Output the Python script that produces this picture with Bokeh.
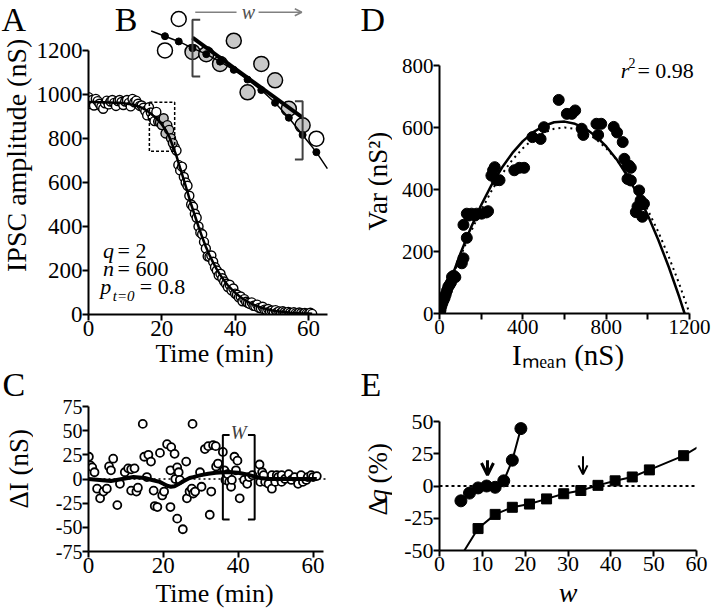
import math
from bokeh.plotting import figure
from bokeh.models import Range1d, FixedTicker, PrintfTickFormatter, Label, Arrow, OpenHead
from bokeh.layouts import row, column
from bokeh.embed import file_html
from bokeh.resources import INLINE

FONT = "Liberation Serif"

# ---------------- Panel A: IPSC amplitude (nS) vs time (min) ----------------
a_time = [0.0, 0.5, 1.0, 1.5, 2.0, 2.5, 3.0, 3.5, 4.0, 4.5,
          5.0, 5.5, 6.0, 6.5, 7.0, 7.5, 8.0, 8.5, 9.0, 9.5,
          10.0, 10.5, 11.0, 11.5, 12.0, 12.5, 13.0, 13.5, 14.0, 14.5,
          15.0, 15.5, 16.0, 16.5, 17.0, 17.5, 18.0, 18.5, 19.0, 19.5,
          20.0, 20.5, 21.0, 21.5, 22.0, 22.5, 23.0, 23.5, 24.0, 24.5,
          25.0, 25.5, 26.0, 26.5, 27.0, 27.5, 28.0, 28.5, 29.0, 29.5,
          30.0, 30.5, 31.0, 31.5, 32.0, 32.5, 33.0, 33.5, 34.0, 34.5,
          35.0, 35.5, 36.0, 36.5, 37.0, 37.5, 38.0, 38.5, 39.0, 39.5,
          40.0, 40.5, 41.0, 41.5, 42.0, 42.5, 43.0, 43.5, 44.0, 44.5,
          45.0, 45.5, 46.0, 46.5, 47.0, 47.5, 48.0, 48.5, 49.0, 49.5,
          50.0, 50.5, 51.0, 51.5, 52.0, 52.5, 53.0, 53.5, 54.0, 54.5,
          55.0, 55.5, 56.0, 56.5, 57.0, 57.5, 58.0, 58.5, 59.0, 59.5,
          60.0, 60.5, 61.0]
a_amp = [988, 957, 975, 950, 980, 970, 958, 945, 935, 960,
         972, 955, 968, 975, 962, 948, 970, 975, 966, 952,
         968, 975, 962, 946, 980, 965, 972, 958, 948, 950,
         940, 925, 905, 942, 918, 895, 879, 921, 877, 874,
         861, 892, 823, 861, 839, 801, 779, 761, 745, 680,
         655, 672, 625, 600, 585, 540, 500, 490, 458, 440,
         400, 372, 365, 330, 300, 265, 262, 268, 240, 215,
         200, 178, 185, 165, 150, 140, 125, 135, 110, 118,
         95, 90, 78, 82, 60, 70, 58, 52, 48, 55,
         40, 38, 45, 30, 28, 35, 22, 20, 25, 15,
         18, 12, 20, 10, 14, 8, 15, 10, 6, 12,
         8, 4, 10, 5, 3, 9, 6, 2, 7, 4,
         1, 8, 3]
a_fit_time = [0, 1, 2, 3, 4, 5, 6, 7, 8, 9,
              10, 11, 12, 13, 14, 15, 16, 17, 18, 19,
              20, 21, 22, 23, 24, 25, 26, 27, 28, 29,
              30, 31, 32, 33, 34, 35, 36, 37, 38, 39,
              40, 41, 42, 43, 44, 45, 46, 47, 48, 49,
              50, 51, 52, 53, 54, 55, 56, 57, 58, 59,
              60, 61]
a_fit_amp = [966, 966, 966, 965, 965, 964, 964, 963, 962, 961,
             959, 957, 954, 950, 944, 936, 926, 913, 898, 882,
             864, 840, 809, 766, 720, 665, 612, 556, 500, 450,
             400, 352, 308, 270, 236, 205, 178, 154, 133, 115,
             99, 85, 73, 62, 53, 45, 38, 32, 27, 23,
             19, 16, 14, 12, 10, 8, 7, 6, 5, 4,
             4, 3]
window_time = [19.0, 23.0]     # the w points of the window (grey)
inset_time = [18.0, 23.5]      # points shown magnified in inset B
box_time = [16.6, 23.5]
box_amp = [742, 965]

# ---------------- Panel B (inset, magnified window) ----------------
b_fit_time = [18.0, 18.5, 19.0, 19.5, 20.0, 20.5, 21.0, 21.5, 22.0, 22.5, 23.0, 23.5]
b_fit_amp = [898, 891, 882, 874, 864, 853, 840, 826, 809, 789, 766, 743]
b_line_time = [17.5, 18.0, 18.5, 19.0, 19.5, 20.0, 20.5, 21.0, 21.5, 22.0, 22.5, 23.0, 23.5, 23.9]
b_line_amp = [905, 898, 891, 882, 874, 864, 853, 840, 826, 809, 789, 766, 743, 721]
b_reg_time = [19.0, 23.0]
b_reg_amp = [896, 789]
b_brk_l_time = [19.28, 19.0, 19.0, 19.28]
b_brk_l_amp = [920, 920, 844, 844]
b_brk_r_time = [22.72, 23.0, 23.0, 22.72]
b_brk_r_amp = [811, 811, 733, 733]
b_warrow_time = [19.1, 20.6, 21.4, 22.97]
b_warrow_amp = [930, 930, 930, 930]

# ---------------- Panel C: residuals ----------------
c_time = [0.1, 0.5, 1.0, 1.6, 2.3, 3.1, 4.0, 4.9, 5.5, 6.0,
          6.6, 7.7, 8.4, 9.7, 10.6, 11.4, 11.4, 12.3, 12.8, 13.2,
          14.5, 14.9, 15.6, 16.0, 16.7, 17.4, 17.7, 18.4, 19.1, 19.7,
          20.2, 21.0, 21.9, 21.9, 22.1, 23.0, 23.2, 23.7, 23.7, 24.1,
          24.4, 25.2, 26.1, 26.3, 27.0, 27.6, 27.8, 28.0, 28.5, 29.8,
          30.2, 31.1, 32.0, 32.4, 32.8, 33.3, 34.0, 34.1, 34.6, 35.9,
          36.3, 36.6, 37.2, 37.6, 38.1, 38.3, 39.0, 39.4, 39.8, 40.4,
          41.6, 42.4, 42.9, 43.8, 45.7, 45.9, 46.4, 46.8, 47.2, 48.1,
          49.0, 49.0, 49.9, 50.3, 50.7, 51.6, 51.6, 52.5, 53.5, 54.2,
          55.1, 56.0, 56.8, 57.3, 58.2, 58.6, 59.5, 60.0, 61.0]
c_dI = [23, 14, 12, 7, -10, -20, -13, -10, 13, 9,
        21, -27, -5, 7, 11, 10, -12, 11, -13, -9,
        57, 23, 2, 25, 18, -12, -28, -29, 27, -17,
        -13, 36, -29, 9, 33, 26, 0, -41, 12, 7,
        -1, -52, 18, -20, -13, -10, 57, -15, -13, 7,
        -8, 31, 34, -37, -13, 35, 34, 13, 16, 28,
        9, -1, 5, -3, -8, -1, 23, 9, 19, -20,
        -1, -5, 2, 4, 15, -3, 7, 4, -3, -5,
        -10, 4, -3, 4, 2, 4, -3, 0, 5, -1,
        2, -5, 4, -3, -1, 2, 4, 2, 3]
c_fit_time = [0, 3, 6, 9, 12, 15, 17, 19, 20, 21, 22, 23, 24, 25, 26, 27, 28,
              30, 32, 34, 36, 38, 40, 42, 44, 46, 48, 50, 55, 61]
c_fit_dI = [0, -1, -2, 0, 2, 1, -1, -3, -5, -7, -8, -7.5, -5.5, -3, -1, 1, 2,
            4, 5.5, 6.5, 7, 7, 6.5, 5, 3, 1, 0, 0, 0, 0]
c_zero_time = [0, 63.4]
c_zero_dI = [0, 0]
c_brk_l_time = [37.7, 35.9, 35.9, 37.7]
c_brk_r_time = [42.6, 44.4, 44.4, 42.6]
c_brk_dI = [45.5, 45.5, -42, -42]

# ---------------- Panel D: variance vs mean ----------------
d_imean = [2, 5, 9, 14, 20, 25, 30, 36, 42, 48,
           55, 60, 68, 76, 107, 115, 115, 131, 131, 140,
           154, 170, 178, 202, 225, 233, 249, 257, 265, 273,
           288, 359, 383, 406, 446, 485, 501, 572, 611, 635,
           651, 682, 690, 753, 776, 761, 836, 852, 879, 887,
           902, 910, 918, 902, 918, 958, 965, 973, 981, 950,
           942, 973]
d_var = [4, 12, 24, 34, 44, 52, 62, 74, 86, 92,
         100, 118, 122, 117, 162, 178, 286, 244, 322, 316,
         322, 316, 322, 322, 326, 330, 445, 462, 472, 430,
         430, 462, 470, 470, 569, 563, 601, 689, 644, 644,
         655, 596, 576, 612, 612, 576, 602, 584, 553, 499,
         477, 477, 470, 434, 429, 397, 365, 352, 354, 345,
         327, 312]
d_fit_i = [0, 50, 100, 150, 200, 250, 300, 350, 400, 450, 500, 550, 600,
           650, 700, 750, 800, 850, 900, 950, 1000, 1050, 1100, 1150, 1176]
d_fit_var = [0, 101, 193, 276, 350, 415, 471, 518, 556, 585, 605, 617, 619,
             612, 597, 572, 539, 497, 445, 385, 316, 237, 150, 54, 0]
d_dot_i = [0, 50, 100, 150, 200, 250, 300, 350, 400, 450, 500, 550, 600,
           650, 700, 750, 800, 850, 900, 950, 1000, 1050, 1100, 1150, 1200]
d_dot_var = [0, 96, 183, 263, 333, 396, 450, 496, 533, 563, 583, 596, 600,
             596, 583, 563, 533, 496, 450, 396, 333, 263, 183, 96, 0]

# ---------------- Panel E: delta q vs window w ----------------
e_circ_w = [5, 7, 9, 11, 13, 15, 17, 19]
e_circ_dq = [-11.5, -5.5, -1.5, 0, -1, 4, 20, 44.5]
e_sq_w = [4.5, 9, 13, 17, 21, 25, 29, 33, 37, 41, 45, 49, 57, 62]
e_sq_dq = [-57, -33, -22, -16.5, -14, -10, -6, -3.5, 0.5, 4, 7, 12.5, 23.5, 33.5]
e_zero_w = [0, 60]
e_zero_dq = [0, 0]
e_arrow_w = [11.2, 33.5]
e_arrow_top = [20, 23]
e_arrow_tip = [8.5, 9]


# ---------------- helpers ----------------
def geom(ox, oy, W, H, L, R, T, B, xpx, xval, xs, ypx, yval, ys):
    return dict(ox=ox, oy=oy, W=W, H=H, L=L, R=R, T=T, B=B,
                x0=xval + (L - xpx) / xs, x1=xval + (R - xpx) / xs,
                y0=yval - (B - ypx) / ys, y1=yval + (ypx - T) / ys)


# figure boxes in page pixels
gA = geom(33, 0, 327, 375, 85, 345, 0, 314, 85, 0, 227 / 60, 314, 0, 0.22)
gB = geom(33, 0, 327, 375, 85, 345, 0, 314, 192.3, 19.0, 28.4, 35.7, 898, 0.748)
gC = geom(33, 375, 327, 240, 83, 340, 406, 551, 83, 0, 229 / 60, 551, -75, 145 / 150)
gD = geom(392, 0, 328, 377, 439, 700, 0, 313, 439, 0, 254 / 1200, 313, 0, 0.31)
gE = geom(392, 377, 328, 238, 439, 696, 411, 550, 439, 0, 257 / 60, 550, -50, 1.29)


def make_fig(g):
    p = figure(width=g["W"], height=g["H"],
               x_range=Range1d(g["x0"], g["x1"]), y_range=Range1d(g["y0"], g["y1"]),
               output_backend="svg", toolbar_location=None,
               min_border_left=int(g["L"] - g["ox"]),
               min_border_right=int(g["ox"] + g["W"] - g["R"]),
               min_border_top=int(g["T"] - g["oy"]),
               min_border_bottom=int(g["oy"] + g["H"] - g["B"]))
    p.xgrid.visible = False
    p.ygrid.visible = False
    p.outline_line_color = None
    p.background_fill_color = "white"
    p.border_fill_color = "white"
    return p


def strip(ox, oy, W, H):
    # text-only figure; its ranges are the page pixels themselves (y downwards)
    p = figure(width=W, height=H, x_range=Range1d(ox, ox + W), y_range=Range1d(oy + H, oy),
               x_axis_type=None, y_axis_type=None, output_backend="svg",
               toolbar_location=None, min_border_left=0, min_border_right=0,
               min_border_top=0, min_border_bottom=0)
    p.outline_line_color = None
    p.background_fill_color = "white"
    p.border_fill_color = "white"
    return p


def style_axis(ax, ticks, bounds, size, minor=None):
    ax.ticker = FixedTicker(ticks=ticks, minor_ticks=minor or [])
    ax.formatter = PrintfTickFormatter(format="%d")
    ax.bounds = bounds
    ax.axis_line_width = 2
    ax.axis_line_color = "black"
    ax.major_tick_line_width = 2
    ax.major_tick_line_color = "black"
    ax.major_tick_out = 6
    ax.major_tick_in = 0
    if minor:
        ax.minor_tick_line_width = 2
        ax.minor_tick_line_color = "black"
        ax.minor_tick_out = 6
        ax.minor_tick_in = 0
    else:
        ax.minor_tick_line_color = None
    ax.major_label_text_font = FONT
    ax.major_label_text_font_size = f"{size}px"
    ax.major_label_text_color = "black"
    ax.major_label_standoff = 0


def axis_title(ax, text, size, standoff, italic=False):
    ax.axis_label = text
    ax.axis_label_text_font = FONT
    ax.axis_label_text_font_size = f"{size}px"
    ax.axis_label_text_font_style = "italic" if italic else "normal"
    ax.axis_label_text_color = "black"
    ax.axis_label_standoff = standoff


UP = math.pi / 2


def lab(p, g, px, py, s, size, italic=False, angle=0.0, color="black", baseline=True):
    """Left-anchored text at page pixel (px, py).  For horizontal text py is the
    alphabetic baseline; it is converted to the middle of the em box."""
    if baseline:
        py = py - 0.34 * size
    if g is None:
        x, y = px, py
    else:
        x = g["x0"] + (px - g["L"]) * (g["x1"] - g["x0"]) / (g["R"] - g["L"])
        y = g["y0"] + (g["B"] - py) * (g["y1"] - g["y0"]) / (g["B"] - g["T"])
    p.add_layout(Label(x=x, y=y, text=s, text_font=FONT, text_font_size=f"{size}px",
                       text_font_style="italic" if italic else "normal",
                       text_align="left", text_baseline="middle", angle=angle,
                       text_color=color))


# ---------------- Panel A (+ inset B) ----------------
pA = make_fig(gA)
pA.extra_x_ranges = {"bx": Range1d(gB["x0"], gB["x1"])}
pA.extra_y_ranges = {"by": Range1d(gB["y0"], gB["y1"])}
style_axis(pA.xaxis[0], [0, 20, 40, 60], (0, 65.3), 23)
style_axis(pA.yaxis[0], [0, 200, 400, 600, 800, 1000, 1200], (0, 1200), 23)
axis_title(pA.xaxis[0], "Time (min)", 26, 0)

in_win = [window_time[0] <= t <= window_time[1] for t in a_time]
pA.scatter([t for t, w in zip(a_time, in_win) if not w],
           [v for v, w in zip(a_amp, in_win) if not w],
           marker="circle", size=9, fill_color="white", line_color="black", line_width=1.4)
pA.scatter([t for t, w in zip(a_time, in_win) if w],
           [v for v, w in zip(a_amp, in_win) if w],
           marker="circle", size=9, fill_color="#c0c0c0", line_color="black", line_width=1.4)
pA.line(a_fit_time, a_fit_amp, line_color="black", line_width=2.5)
pA.quad(left=[box_time[0]], right=[box_time[1]], bottom=[box_amp[0]], top=[box_amp[1]],
        fill_color=None, line_color="black", line_dash="3 2", line_width=1.5)

in_inset = [inset_time[0] <= t <= inset_time[1] for t in a_time]
b_open = [(t, v) for t, v, i, w in zip(a_time, a_amp, in_inset, in_win) if i and not w]
b_grey = [(t, v) for t, v, i, w in zip(a_time, a_amp, in_inset, in_win) if i and w]
BR = dict(x_range_name="bx", y_range_name="by")
pA.scatter([q[0] for q in b_open], [q[1] for q in b_open], marker="circle", size=15,
           fill_color="white", line_color="black", line_width=1.5, **BR)
pA.scatter([q[0] for q in b_grey], [q[1] for q in b_grey], marker="circle", size=15,
           fill_color="#c8c8c8", line_color="black", line_width=1.5, **BR)
pA.line(b_line_time, b_line_amp, line_color="black", line_width=1.5, **BR)
pA.line(b_reg_time, b_reg_amp, line_color="black", line_width=4, **BR)
pA.scatter(b_fit_time, b_fit_amp, marker="circle", size=7, fill_color="black",
           line_color="black", **BR)
pA.line(b_brk_l_time, b_brk_l_amp, line_color="#404040", line_width=2, **BR)
pA.line(b_brk_r_time, b_brk_r_amp, line_color="#404040", line_width=2, **BR)
pA.line(b_warrow_time[:2], b_warrow_amp[:2], line_color="#808080", line_width=1.5, **BR)
pA.add_layout(Arrow(x_start=b_warrow_time[2], y_start=b_warrow_amp[2],
                    x_end=b_warrow_time[3], y_end=b_warrow_amp[3],
                    line_color="#808080", line_width=1.5,
                    end=OpenHead(size=7, line_color="#808080", line_width=1.5), **BR))

lab(pA, gA, 112, 30.5, "B", 34)
lab(pA, gA, 243, 18, "w", 20, italic=True, color="#505050")
lab(pA, gA, 100, 257, "q", 22, italic=True)
lab(pA, gA, 115, 257, "= 2", 22)
lab(pA, gA, 100, 275, "n", 22, italic=True)
lab(pA, gA, 115, 275, "= 600", 22)
lab(pA, gA, 97, 293, "p", 22, italic=True)
lab(pA, gA, 110, 301, "t=0", 15, italic=True)
lab(pA, gA, 138, 293, "= 0.8", 22)

# ---------------- Panel C ----------------
pC = make_fig(gC)
style_axis(pC.xaxis[0], [0, 20, 40, 60], (0, 62.9), 23)
style_axis(pC.yaxis[0], [-75, -50, -25, 0, 25, 50, 75], (-75, 75), 20)
axis_title(pC.xaxis[0], "Time (min)", 26, 3)
pC.line(c_zero_time, c_zero_dI, line_color="black", line_width=1.5, line_dash="2 3")
pC.scatter(c_time, c_dI, marker="circle", size=8, fill_color="white",
           line_color="black", line_width=1.8)
pC.line(c_fit_time, c_fit_dI, line_color="black", line_width=4)
pC.line(c_brk_l_time, c_brk_dI, line_color="black", line_width=2)
pC.line(c_brk_r_time, c_brk_dI, line_color="black", line_width=2)
lab(pC, gC, 228, 438, "W", 19, italic=True, color="#404040")

# ---------------- Panel D ----------------
pD = make_fig(gD)
style_axis(pD.xaxis[0], [0, 400, 800, 1200], (0, 1200), 21, minor=[200, 600, 1000])
style_axis(pD.yaxis[0], [0, 200, 400, 600, 800], (0, 800), 21)
axis_title(pD.xaxis[0], "Iₘₑₐₙ (nS)", 29, 2)
pD.scatter(d_imean, d_var, marker="circle", size=11, fill_color="black", line_color="black")
pD.line(d_fit_i, d_fit_var, line_color="black", line_width=2.5)
pD.line(d_dot_i, d_dot_var, line_color="black", line_width=2, line_dash="2 4")
lab(pD, gD, 623, 77, "r", 22, italic=True)
lab(pD, gD, 631, 67, "2", 14)
lab(pD, gD, 640, 77, "= 0.98", 22)

# ---------------- Panel E ----------------
pE = make_fig(gE)
style_axis(pE.xaxis[0], [0, 10, 20, 30, 40, 50, 60], (0, 60), 22)
style_axis(pE.yaxis[0], [-50, -25, 0, 25, 50], (-50, 50), 22)
axis_title(pE.xaxis[0], "w", 28, 3, italic=True)
pE.line(e_zero_w, e_zero_dq, line_color="black", line_width=2, line_dash="3 3")
pE.line(e_circ_w, e_circ_dq, line_color="black", line_width=2)
pE.scatter(e_circ_w, e_circ_dq, marker="circle", size=12, fill_color="black", line_color="black")
pE.line(e_sq_w, e_sq_dq, line_color="black", line_width=2)
pE.scatter(e_sq_w, e_sq_dq, marker="square", size=10, fill_color="black", line_color="black")
for k, (wv, top, tip) in enumerate(zip(e_arrow_w, e_arrow_top, e_arrow_tip)):
    lw = 3 if k == 0 else 2
    pE.add_layout(Arrow(x_start=wv, y_start=top, x_end=wv, y_end=tip,
                        line_color="black", line_width=lw,
                        end=OpenHead(size=12 if k == 0 else 9, line_color="black", line_width=lw)))

# ---------------- text strips (panel letters and y-axis titles) ----------------
sL = strip(0, 0, 33, 615)
lab(sL, None, 1, 30.5, "A", 34)
lab(sL, None, 16, 271.5, "IPSC amplitude (nS)", 28, angle=UP, baseline=False)
lab(sL, None, 2, 396, "C", 34)
lab(sL, None, 18, 508, "ΔI (nS)", 27, angle=UP, baseline=False)

sR = strip(360, 0, 32, 615)
lab(sR, None, 360, 30.5, "D", 34)
lab(sR, None, 377, 230, "Var (nS²)", 27, angle=UP, baseline=False)
lab(sR, None, 360, 396, "E", 34)
lab(sR, None, 377, 515, "Δ", 27, angle=UP, baseline=False)
lab(sR, None, 377, 502, "q", 27, italic=True, angle=UP, baseline=False)
lab(sR, None, 377, 483, "(%)", 27, angle=UP, baseline=False)

left = row(sL, column(pA, pC))
right = row(sR, column(pD, pE))
layout = row(left, right)
open("out.html", "w").write(file_html(layout, INLINE))
